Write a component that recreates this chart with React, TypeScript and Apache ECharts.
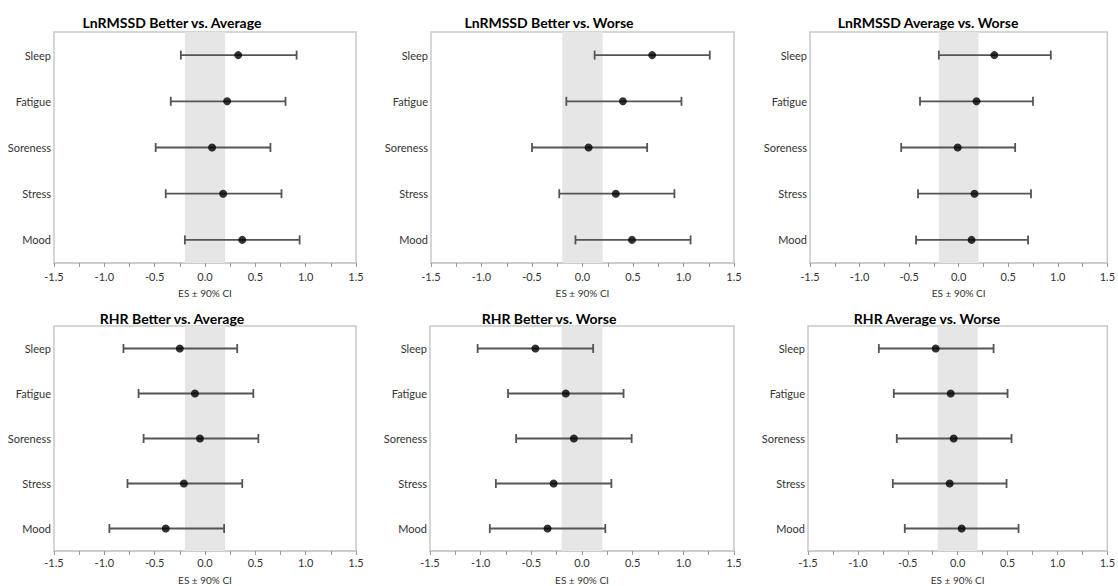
import React, { useEffect, useRef } from "react";
import * as echarts from "echarts";

const categories = ["Sleep", "Fatigue", "Soreness", "Stress", "Mood"];
const xTicks = [-1.5, -1.0, -0.5, 0.0, 0.5, 1.0, 1.5];
const trivialBand = [-0.2, 0.2];
const axisName = "ES ± 90% CI";

const panelTitles = [
  "LnRMSSD Better vs. Average",
  "LnRMSSD Better vs. Worse",
  "LnRMSSD Average vs. Worse",
  "RHR Better vs. Average",
  "RHR Better vs. Worse",
  "RHR Average vs. Worse",
];

// LnRMSSD Better vs. Average
const lnBetterAvgES = [0.33, 0.22, 0.07, 0.18, 0.37];
const lnBetterAvgLo = [-0.24, -0.34, -0.49, -0.39, -0.2];
const lnBetterAvgHi = [0.91, 0.8, 0.65, 0.76, 0.94];
// LnRMSSD Better vs. Worse
const lnBetterWorseES = [0.69, 0.4, 0.06, 0.33, 0.49];
const lnBetterWorseLo = [0.12, -0.16, -0.5, -0.23, -0.07];
const lnBetterWorseHi = [1.26, 0.98, 0.64, 0.91, 1.07];
// LnRMSSD Average vs. Worse
const lnAvgWorseES = [0.36, 0.18, -0.01, 0.16, 0.13];
const lnAvgWorseLo = [-0.2, -0.39, -0.58, -0.41, -0.43];
const lnAvgWorseHi = [0.93, 0.75, 0.57, 0.73, 0.7];
// RHR Better vs. Average
const rhrBetterAvgES = [-0.25, -0.1, -0.05, -0.21, -0.39];
const rhrBetterAvgLo = [-0.81, -0.66, -0.61, -0.77, -0.95];
const rhrBetterAvgHi = [0.32, 0.48, 0.53, 0.37, 0.19];
// RHR Better vs. Worse
const rhrBetterWorseES = [-0.46, -0.16, -0.08, -0.28, -0.34];
const rhrBetterWorseLo = [-1.03, -0.73, -0.65, -0.85, -0.91];
const rhrBetterWorseHi = [0.11, 0.41, 0.49, 0.29, 0.23];
// RHR Average vs. Worse
const rhrAvgWorseES = [-0.22, -0.07, -0.04, -0.08, 0.04];
const rhrAvgWorseLo = [-0.79, -0.64, -0.61, -0.65, -0.53];
const rhrAvgWorseHi = [0.36, 0.5, 0.54, 0.49, 0.61];

const panelES = [lnBetterAvgES, lnBetterWorseES, lnAvgWorseES, rhrBetterAvgES, rhrBetterWorseES, rhrAvgWorseES];
const panelLo = [lnBetterAvgLo, lnBetterWorseLo, lnAvgWorseLo, rhrBetterAvgLo, rhrBetterWorseLo, rhrAvgWorseLo];
const panelHi = [lnBetterAvgHi, lnBetterWorseHi, lnAvgWorseHi, rhrBetterAvgHi, rhrBetterWorseHi, rhrAvgWorseHi];

// layout (px)
const grids = [
  { left: 54, top: 32, width: 302, height: 231 },
  { left: 431, top: 32, width: 303, height: 231 },
  { left: 810, top: 32, width: 302, height: 231 },
  { left: 54, top: 326, width: 302, height: 230 },
  { left: 430, top: 326, width: 304, height: 230 },
  { left: 808, top: 326, width: 304, height: 230 },
];
const titlePos = [
  [172, 22],
  [549, 22],
  [928, 22],
  [172, 318],
  [549, 318],
  [927, 318],
];

const FONT = "Lato, 'Open Sans', sans-serif";
const TXT = "#333333";

function buildOption() {
  const grid = grids.map((g) => ({
    ...g,
    show: true,
    borderColor: "#c9c9c9",
    borderWidth: 1.5,
    backgroundColor: "#ffffff",
    containLabel: false,
  }));
  const xAxis = grids.map((_, i) => ({
    type: "value",
    gridIndex: i,
    min: xTicks[0],
    max: xTicks[xTicks.length - 1],
    interval: 0.5,
    name: axisName,
    nameLocation: "middle",
    nameGap: i < 3 ? 25 : 24,
    nameTextStyle: { fontFamily: FONT, fontSize: 10, color: TXT },
    axisLine: { show: true, lineStyle: { color: "#c9c9c9", width: 1.5 } },
    axisTick: { show: true, length: 4, lineStyle: { color: "#9a9a9a" } },
    minorTick: { show: true, splitNumber: 2, length: 4, lineStyle: { color: "#9a9a9a" } },
    splitLine: { show: false },
    axisLabel: {
      margin: i < 3 ? 8 : 6,
      fontFamily: FONT,
      fontSize: 11,
      color: TXT,
      formatter: (v: number) => v.toFixed(1),
    },
  }));
  const yAxis = grids.map((_, i) => ({
    type: "category",
    gridIndex: i,
    data: categories,
    inverse: true,
    boundaryGap: true,
    axisLine: { show: false },
    axisTick: { show: false },
    splitLine: { show: false },
    axisLabel: { margin: 3, fontFamily: FONT, fontSize: 11, color: TXT },
  }));

  const series: any[] = [];
  for (let i = 0; i < 6; i++) {
    const barData = categories.map((_, k) => [panelLo[i][k], panelHi[i][k], k]);
    series.push({
      type: "custom",
      xAxisIndex: i,
      yAxisIndex: i,
      encode: { x: [0, 1], y: 2 },
      data: barData,
      z: 3,
      markArea: {
        silent: true,
        itemStyle: { color: "#e6e6e6" },
        data: [[{ xAxis: trivialBand[0] }, { xAxis: trivialBand[1] }]],
      },
      renderItem: (params: any, api: any) => {
        const cat = api.value(2);
        const p1 = api.coord([api.value(0), cat]);
        const p2 = api.coord([api.value(1), cat]);
        const h = 4.5;
        const st = { stroke: "#555555", lineWidth: 1.8 };
        return {
          type: "group",
          children: [
            { type: "line", shape: { x1: p1[0], y1: p1[1], x2: p2[0], y2: p2[1] }, style: st },
            { type: "line", shape: { x1: p1[0], y1: p1[1] - h, x2: p1[0], y2: p1[1] + h }, style: st },
            { type: "line", shape: { x1: p2[0], y1: p2[1] - h, x2: p2[0], y2: p2[1] + h }, style: st },
          ],
        };
      },
    });
    series.push({
      type: "scatter",
      xAxisIndex: i,
      yAxisIndex: i,
      data: categories.map((c, k) => [panelES[i][k], c]),
      symbol: "circle",
      symbolSize: 8,
      itemStyle: { color: "#000000" },
      z: 5,
    });
  }

  const graphic = panelTitles.map((t, i) => ({
    type: "text",
    x: titlePos[i][0],
    y: titlePos[i][1],
    style: {
      text: t,
      fill: "#000000",
      font: `bold 14px ${FONT}`,
      fontWeight: "bold",
      fontSize: 14,
      fontFamily: FONT,
      align: "center",
      verticalAlign: "middle",
      textAlign: "center",
      textVerticalAlign: "middle",
    },
  }));

  return { animation: false, backgroundColor: "#ffffff", grid, xAxis, yAxis, series, graphic };
}

export default function App() {
  const ref = useRef<HTMLDivElement>(null);
  useEffect(() => {
    document.body.style.margin = "0";
    if (!ref.current) return;
    const chart = echarts.init(ref.current, undefined, { renderer: "svg" });
    chart.setOption(buildOption() as any);
    return () => chart.dispose();
  }, []);
  return <div ref={ref} style={{ width: 1118, height: 586 }} />;
}
